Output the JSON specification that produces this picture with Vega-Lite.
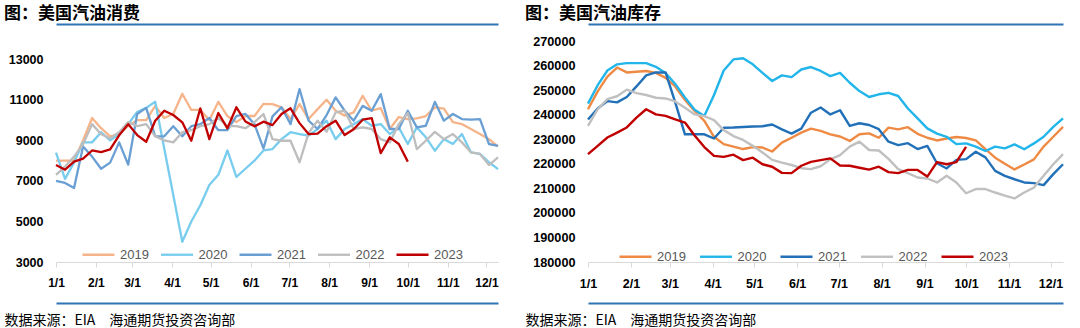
{
"$schema": "https://vega.github.io/schema/vega-lite/v6.json",
"background": "#ffffff",
"padding": {"left": 4, "top": 5, "right": 0, "bottom": 0},
"spacing": 25,
"config": {"view": {"stroke": null}},
"resolve": {"scale": {"color": "independent", "strokeWidth": "independent"}, "legend": {"color": "independent", "strokeWidth": "independent"}},
"datasets": {
"cons": [
{"d":"2023/01/01","2019":8000,"2020":8400,"2021":7000,"2022":7300,"2023":7780},
{"d":"2023/01/08","2019":8000,"2020":7100,"2021":6900,"2022":7700,"2023":7550},
{"d":"2023/01/15","2019":8000,"2020":7900,"2021":6650,"2022":8200,"2023":7950},
{"d":"2023/01/22","2019":9000,"2020":8900,"2021":8700,"2022":8800,"2023":8100},
{"d":"2023/01/29","2019":10100,"2020":8900,"2021":8200,"2022":9800,"2023":8500},
{"d":"2023/02/05","2019":9600,"2020":9400,"2021":7600,"2022":9300,"2023":8420},
{"d":"2023/02/12","2019":9200,"2020":9000,"2021":7900,"2022":9100,"2023":8550},
{"d":"2023/02/19","2019":9300,"2020":9300,"2021":8900,"2022":9400,"2023":9250},
{"d":"2023/02/26","2019":9700,"2020":9800,"2021":7800,"2022":9900,"2023":9800},
{"d":"2023/03/05","2019":10000,"2020":10400,"2021":10300,"2022":9700,"2023":9260},
{"d":"2023/03/12","2019":10000,"2020":10600,"2021":10600,"2022":9800,"2023":8930},
{"d":"2023/03/19","2019":10700,"2020":10900,"2021":9200,"2022":9200,"2023":9970},
{"d":"2023/03/26","2019":10100,"2020":8600,"2021":9200,"2022":9000,"2023":10460},
{"d":"2023/04/02","2019":10300,"2020":6300,"2021":9700,"2022":8900,"2023":10250},
{"d":"2023/04/09","2019":11300,"2020":4000,"2021":9200,"2022":9400,"2023":9890},
{"d":"2023/04/16","2019":10500,"2020":5000,"2021":9700,"2022":9500,"2023":8980},
{"d":"2023/04/23","2019":10500,"2020":5800,"2021":9800,"2022":9700,"2023":10580},
{"d":"2023/04/30","2019":10000,"2020":6800,"2021":10100,"2022":9800,"2023":9060},
{"d":"2023/05/07","2019":10900,"2020":7300,"2021":9500,"2022":10100,"2023":10350},
{"d":"2023/05/14","2019":10200,"2020":8500,"2021":9500,"2022":9700,"2023":9590},
{"d":"2023/05/21","2019":9900,"2020":7200,"2021":10200,"2022":9700,"2023":10630},
{"d":"2023/05/28","2019":10200,"2020":7600,"2021":10300,"2022":9600,"2023":9930},
{"d":"2023/06/04","2019":10200,"2020":8000,"2021":9800,"2022":9900,"2023":9690},
{"d":"2023/06/11","2019":10800,"2020":8500,"2021":8600,"2022":10300,"2023":9920},
{"d":"2023/06/18","2019":10790,"2020":8570,"2021":10180,"2022":9060,"2023":9750},
{"d":"2023/06/25","2019":10630,"2020":9060,"2021":10630,"2022":8980,"2023":10300},
{"d":"2023/07/02","2019":10050,"2020":9400,"2021":9800,"2022":8980,"2023":10580},
{"d":"2023/07/09","2019":10790,"2020":9310,"2021":11530,"2022":7920,"2023":9850},
{"d":"2023/07/16","2019":10050,"2020":9230,"2021":9970,"2022":9360,"2023":9310},
{"d":"2023/07/23","2019":10540,"2020":9560,"2021":9560,"2022":9970,"2023":9330},
{"d":"2023/07/30","2019":11000,"2020":9970,"2021":10250,"2022":9420,"2023":9700},
{"d":"2023/08/06","2019":10460,"2020":9060,"2021":11120,"2022":10380,"2023":9970},
{"d":"2023/08/13","2019":10220,"2020":9560,"2021":10460,"2022":10460,"2023":9260},
{"d":"2023/08/20","2019":10380,"2020":9800,"2021":9970,"2022":9560,"2023":9550},
{"d":"2023/08/27","2019":11200,"2020":10050,"2021":10700,"2022":9640,"2023":10020},
{"d":"2023/09/03","2019":10460,"2020":9720,"2021":10460,"2022":9560,"2023":10100},
{"d":"2023/09/10","2019":10590,"2020":9800,"2021":11280,"2022":9060,"2023":8370},
{"d":"2023/09/17","2019":9560,"2020":9310,"2021":9560,"2022":8900,"2023":9150},
{"d":"2023/09/24","2019":10150,"2020":9640,"2021":9560,"2022":9800,"2023":8820},
{"d":"2023/10/01","2019":10050,"2020":8820,"2021":10460,"2022":10350,"2023":7950},
{"d":"2023/10/08","2019":10080,"2020":9640,"2021":9640,"2022":8570},
{"d":"2023/10/15","2019":10200,"2020":9150,"2021":9720,"2022":8980},
{"d":"2023/10/22","2019":10630,"2020":8490,"2021":10900,"2022":9420},
{"d":"2023/10/29","2019":10560,"2020":9060,"2021":9970,"2022":9060},
{"d":"2023/11/05","2019":9900,"2020":8820,"2021":10300,"2022":9310},
{"d":"2023/11/12","2019":9800,"2020":9310,"2021":10050,"2022":8900},
{"d":"2023/11/19","2019":9560,"2020":8410,"2021":10020,"2022":8410},
{"d":"2023/11/26","2019":9310,"2020":8330,"2021":10050,"2022":8330},
{"d":"2023/12/03","2019":9060,"2020":7920,"2021":8820,"2022":7780},
{"d":"2023/12/10","2019":8700,"2020":7580,"2021":8730,"2022":8160}
],
"stock": [
{"d":"2023/01/01","2019":242200,"2020":244500,"2021":238000,"2022":235400,"2023":223900},
{"d":"2023/01/08","2019":249500,"2020":252000,"2021":242500,"2022":242200,"2023":227300},
{"d":"2023/01/15","2019":255500,"2020":258000,"2021":245500,"2022":246300,"2023":230700},
{"d":"2023/01/22","2019":259200,"2020":260500,"2021":245000,"2022":247500,"2023":232700},
{"d":"2023/01/29","2019":257200,"2020":261000,"2021":247200,"2022":250200,"2023":234800},
{"d":"2023/02/05","2019":257500,"2020":261000,"2021":251500,"2022":248800,"2023":238800},
{"d":"2023/02/12","2019":257800,"2020":261000,"2021":256000,"2022":248000,"2023":242200},
{"d":"2023/02/19","2019":257000,"2020":259500,"2021":257200,"2022":246900,"2023":240100},
{"d":"2023/02/26","2019":255000,"2020":257000,"2021":257200,"2022":246600,"2023":239500},
{"d":"2023/03/05","2019":251500,"2020":252500,"2021":245000,"2022":245400,"2023":238100},
{"d":"2023/03/12","2019":246000,"2020":247000,"2021":232000,"2022":242800,"2023":236800},
{"d":"2023/03/19","2019":241500,"2020":242000,"2021":232000,"2022":240100,"2023":231500},
{"d":"2023/03/26","2019":237500,"2020":239500,"2021":232000,"2022":239400,"2023":226800},
{"d":"2023/04/02","2019":231000,"2020":248000,"2021":230300,"2022":237800,"2023":223200},
{"d":"2023/04/09","2019":228000,"2020":258000,"2021":234700,"2022":233700,"2023":222800},
{"d":"2023/04/16","2019":227000,"2020":262500,"2021":234800,"2022":231300,"2023":223700},
{"d":"2023/04/23","2019":226000,"2020":263000,"2021":235000,"2022":229700,"2023":221500},
{"d":"2023/04/30","2019":226800,"2020":260500,"2021":235200,"2022":227300,"2023":222500},
{"d":"2023/05/07","2019":226600,"2020":257000,"2021":235300,"2022":224600,"2023":219800},
{"d":"2023/05/14","2019":225000,"2020":253700,"2021":236000,"2022":221600,"2023":218800},
{"d":"2023/05/21","2019":228600,"2020":256000,"2021":234000,"2022":220500,"2023":216300},
{"d":"2023/05/28","2019":230600,"2020":255300,"2021":232300,"2022":219500,"2023":216200},
{"d":"2023/06/04","2019":232700,"2020":258400,"2021":234300,"2022":218200,"2023":219200},
{"d":"2023/06/11","2019":234300,"2020":259400,"2021":240800,"2022":217800,"2023":220800},
{"d":"2023/06/18","2019":233400,"2020":257800,"2021":242900,"2022":219000,"2023":221500},
{"d":"2023/06/25","2019":232000,"2020":255700,"2021":240100,"2022":221800,"2023":222200},
{"d":"2023/07/02","2019":231100,"2020":257000,"2021":241800,"2022":223500,"2023":219300},
{"d":"2023/07/09","2019":229300,"2020":253000,"2021":235400,"2022":227000,"2023":219200},
{"d":"2023/07/16","2019":232000,"2020":249600,"2021":236500,"2022":229000,"2023":218400},
{"d":"2023/07/23","2019":232400,"2020":247200,"2021":235800,"2022":225600,"2023":217600},
{"d":"2023/07/30","2019":230600,"2020":248300,"2021":234100,"2022":225400,"2023":218800},
{"d":"2023/08/06","2019":234700,"2020":248900,"2021":229000,"2022":222000,"2023":216600},
{"d":"2023/08/13","2019":234000,"2020":247600,"2021":227600,"2022":217800,"2023":216200},
{"d":"2023/08/20","2019":234900,"2020":242500,"2021":228400,"2022":216200,"2023":217500},
{"d":"2023/08/27","2019":232200,"2020":238500,"2021":226000,"2022":214400,"2023":217500},
{"d":"2023/09/03","2019":230600,"2020":234400,"2021":227300,"2022":214000,"2023":214800},
{"d":"2023/09/10","2019":229500,"2020":232300,"2021":220200,"2022":212400,"2023":220700},
{"d":"2023/09/17","2019":230300,"2020":231000,"2021":218100,"2022":215100,"2023":219800},
{"d":"2023/09/24","2019":230900,"2020":228000,"2021":221600,"2022":212400,"2023":220700},
{"d":"2023/10/01","2019":230500,"2020":228300,"2021":221900,"2022":208000,"2023":226900},
{"d":"2023/10/08","2019":229500,"2020":227000,"2021":224900,"2022":209700},
{"d":"2023/10/15","2019":226000,"2020":225200,"2021":222600,"2022":209700},
{"d":"2023/10/22","2019":222500,"2020":227000,"2021":217100,"2022":208300},
{"d":"2023/10/29","2019":220000,"2020":226300,"2021":215100,"2022":207000},
{"d":"2023/11/05","2019":217700,"2020":227900,"2021":213700,"2022":205900},
{"d":"2023/11/12","2019":219700,"2020":225900,"2021":212400,"2022":208300},
{"d":"2023/11/19","2019":221800,"2020":228300,"2021":212100,"2022":210300},
{"d":"2023/11/26","2019":227000,"2020":231000,"2021":211300,"2022":215100},
{"d":"2023/12/03","2019":231000,"2020":235000,"2021":215800,"2022":219800},
{"d":"2023/12/10","2019":235000,"2020":238500,"2021":219800,"2022":223900}
]
},
"hconcat": [
{
"width": 442, "height": 221,
"title": {"text": "图：美国汽油消费", "anchor": "start", "font": "Noto Sans CJK SC", "fontSize": 17, "fontWeight": "bold", "color": "#000000", "offset": 1},
"data": {"name": "cons"},
"transform": [{"fold": ["2019","2020","2021","2022","2023"], "as": ["year","value"]}, {"filter": "isValid(datum.value)"}],
"resolve": {"axis": {"x": "independent"}},
"layer": [
{"mark": {"type": "line", "strokeJoin": "round"},
 "encoding": {
  "x": {"field": "d", "type": "temporal",
   "scale": {"domain": [{"year":2023,"month":1,"date":1},{"year":2023,"month":12,"date":10}]},
   "axis": {"orient": "bottom", "format": "%-m/%-d", "tickCount": {"interval": "month", "step": 1}, "domainColor": "#D9D9D9", "tickColor": "#D9D9D9", "tickSize": 5, "labelFont": "Liberation Sans", "labelFontWeight": "bold", "labelFontSize": 12, "labelColor": "#000000", "labelPadding": 10, "grid": false, "title": null, "labelFlush": false, "labelOverlap": false}},
  "y": {"field": "value", "type": "quantitative",
   "scale": {"domain": [3000, 13900], "nice": false, "zero": false},
   "axis": {"values": [3000,5000,7000,9000,11000,13000], "format": "d", "domain": false, "ticks": false, "grid": false, "labelFont": "Liberation Sans", "labelFontWeight": "bold", "labelFontSize": 12.5, "labelColor": "#000000", "labelPadding": 13, "title": null}},
  "color": {"field": "year", "type": "nominal",
   "scale": {"domain": ["2019","2020","2021","2022","2023"], "range": ["#F6B48A","#78CDEF","#6A9FD4","#BDBDBD","#C00000"]},
   "legend": {"orient": "none", "legendX": 25, "legendY": 196, "direction": "horizontal", "title": null, "padding": 0, "symbolType": "stroke", "symbolSize": 1024, "labelFont": "Liberation Sans", "labelFontSize": 13, "labelColor": "#595959", "labelOffset": 4, "columnPadding": 6.5}},
  "strokeWidth": {"field": "year", "type": "ordinal",
   "scale": {"domain": ["2019","2020","2021","2022","2023"], "range": [2.3,2.3,2.3,4.8,2.8]},
   "legend": {"orient": "none", "legendX": 25, "legendY": 196, "direction": "horizontal", "title": null, "padding": 0, "symbolType": "stroke", "symbolSize": 1024, "labelFont": "Liberation Sans", "labelFontSize": 13, "labelColor": "#595959", "labelOffset": 4, "columnPadding": 6.5}}
 }},
{"mark": {"type": "rule", "opacity": 0},
 "encoding": {"x": {"field": "d", "type": "temporal", "axis": {"orient": "top", "offset": 17, "domainColor": "#2E75B6", "domainWidth": 2, "labels": false, "ticks": false, "grid": false, "title": null}}}},
{"mark": {"type": "rule", "opacity": 0},
 "encoding": {"x": {"field": "d", "type": "temporal", "axis": {"orient": "bottom", "offset": 41, "domainColor": "#2E75B6", "domainWidth": 2, "labels": false, "ticks": false, "grid": false,
   "title": "数据来源：EIA　海通期货投资咨询部", "titleX": -52, "titleY": 17, "titleAlign": "left", "titleAnchor": "start", "titleBaseline": "middle", "titleFont": "Noto Sans CJK SC", "titleFontSize": 14, "titleFontWeight": "normal", "titleColor": "#000000"}}}}
]
},
{
"width": 475, "height": 221,
"title": {"text": "图：美国汽油库存", "anchor": "start", "font": "Noto Sans CJK SC", "fontSize": 17, "fontWeight": "bold", "color": "#000000", "offset": 1},
"data": {"name": "stock"},
"transform": [{"fold": ["2019","2020","2021","2022","2023"], "as": ["year","value"]}, {"filter": "isValid(datum.value)"}],
"resolve": {"axis": {"x": "independent"}},
"layer": [
{"mark": {"type": "line", "strokeJoin": "round"},
 "encoding": {
  "x": {"field": "d", "type": "temporal",
   "scale": {"domain": [{"year":2023,"month":1,"date":1},{"year":2023,"month":12,"date":10}]},
   "axis": {"orient": "bottom", "format": "%-m/%-d", "tickCount": {"interval": "month", "step": 1}, "domainColor": "#D9D9D9", "tickColor": "#D9D9D9", "tickSize": 5, "labelFont": "Liberation Sans", "labelFontWeight": "bold", "labelFontSize": 12.5, "labelColor": "#000000", "labelPadding": 10, "grid": false, "title": null, "labelFlush": false, "labelOverlap": false}},
  "y": {"field": "value", "type": "quantitative",
   "scale": {"domain": [180000, 270000], "nice": false, "zero": false},
   "axis": {"values": [180000,190000,200000,210000,220000,230000,240000,250000,260000,270000], "format": "d", "domain": false, "ticks": false, "grid": false, "labelFont": "Liberation Sans", "labelFontWeight": "bold", "labelFontSize": 12.7, "labelColor": "#000000", "labelPadding": 13, "title": null}},
  "color": {"field": "year", "type": "nominal",
   "scale": {"domain": ["2019","2020","2021","2022","2023"], "range": ["#EE8A44","#22B5EA","#2270B8","#C0C0C0","#C00000"]},
   "legend": {"orient": "none", "legendX": 30, "legendY": 198, "direction": "horizontal", "title": null, "padding": 0, "symbolType": "stroke", "symbolSize": 1024, "labelFont": "Liberation Sans", "labelFontSize": 13, "labelColor": "#595959", "labelOffset": 4, "columnPadding": 8.5}},
  "strokeWidth": {"field": "year", "type": "ordinal",
   "scale": {"domain": ["2019","2020","2021","2022","2023"], "range": [2.4,2.4,2.4,4.8,2.8]},
   "legend": {"orient": "none", "legendX": 30, "legendY": 198, "direction": "horizontal", "title": null, "padding": 0, "symbolType": "stroke", "symbolSize": 1024, "labelFont": "Liberation Sans", "labelFontSize": 13, "labelColor": "#595959", "labelOffset": 4, "columnPadding": 8.5}}
 }},
{"mark": {"type": "rule", "opacity": 0},
 "encoding": {"x": {"field": "d", "type": "temporal", "axis": {"orient": "top", "offset": 17, "domainColor": "#2E75B6", "domainWidth": 2, "labels": false, "ticks": false, "grid": false, "title": null}}}},
{"mark": {"type": "rule", "opacity": 0},
 "encoding": {"x": {"field": "d", "type": "temporal", "axis": {"orient": "bottom", "offset": 41, "domainColor": "#2E75B6", "domainWidth": 2, "labels": false, "ticks": false, "grid": false,
   "title": "数据来源：EIA　海通期货投资咨询部", "titleX": -63, "titleY": 17, "titleAlign": "left", "titleAnchor": "start", "titleBaseline": "middle", "titleFont": "Noto Sans CJK SC", "titleFontSize": 14, "titleFontWeight": "normal", "titleColor": "#000000"}}}}
]
}
]
}
